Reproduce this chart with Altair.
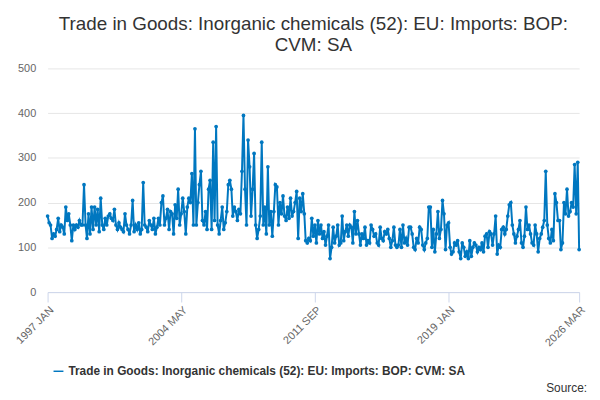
import altair as alt
import pandas as pd

y1997_2003 = [170,155,150,120,130,125,140,165,135,150,145,130,
 190,160,175,150,115,150,140,150,145,160,150,150,
 240,150,120,175,130,190,140,190,150,185,135,210,
 150,140,165,150,170,175,165,160,185,150,140,155,
 145,140,135,175,150,140,130,150,205,135,150,140,
 155,130,140,245,150,145,135,160,150,140,165,130,
 145,165,150,200,215,150,165,185,140,180,175,130]
y2004_2010 = [195,165,230,150,175,210,180,130,190,210,200,265,
 150,365,150,200,240,270,160,150,180,140,230,250,
 140,335,160,370,150,130,160,190,140,155,180,240,
 250,230,170,190,180,160,185,175,270,395,230,150,
 340,280,170,230,310,150,120,140,170,335,150,190,
 130,280,150,180,125,180,240,235,150,200,175,215,
 170,160,190,165,210,170,180,200,225,120,210,180]
y2011_2017 = [220,175,115,110,120,115,165,125,150,110,160,130,
 150,120,135,105,125,150,75,100,145,110,125,150,
 105,110,170,115,135,150,125,150,145,110,180,130,
 160,130,105,130,120,145,105,115,110,150,140,125,
 130,110,105,145,120,115,135,130,140,120,100,115,
 145,105,100,105,140,100,150,110,120,105,145,145,
 130,100,95,120,110,145,140,105,95,110,120,190]
y2018_2026 = [190,100,140,90,130,180,120,140,205,175,95,150,
 155,100,85,90,110,105,115,90,75,110,100,80,
 90,75,115,80,100,110,105,90,100,95,110,90,
 125,130,100,135,130,105,130,170,85,105,100,140,
 145,130,140,170,195,200,150,130,110,125,140,160,
 110,100,125,190,140,150,130,110,105,150,130,90,
 120,130,145,160,270,150,120,110,140,115,220,200,
 160,160,95,110,200,175,230,170,180,200,190,285,
 175,290,95]
values = y1997_2003 + y2004_2010 + y2011_2017 + y2018_2026
series = "Trade in Goods: Inorganic chemicals (52): EU: Imports: BOP: CVM: SA"
dates = pd.date_range("1997-01-01", periods=len(values), freq="MS")
df = pd.DataFrame({"date": dates, "value": values, "series": series})
tick_dates = [alt.DateTime(year=1997, month=1, date=1), alt.DateTime(year=2004, month=5, date=1),
              alt.DateTime(year=2011, month=9, date=1), alt.DateTime(year=2019, month=1, date=1),
              alt.DateTime(year=2026, month=3, date=1)]

line = alt.Chart(df).mark_line(point=alt.OverlayMarkDef(size=14, filled=True), strokeWidth=2).encode(
    x=alt.X("date:T", title=None,
            scale=alt.Scale(domain=[alt.DateTime(year=1997, month=1, date=1), alt.DateTime(year=2026, month=3, date=1)]),
            axis=alt.Axis(values=tick_dates, labelExpr="upper(timeFormat(datum.value, '%Y %b'))",
                          labelAngle=-45, grid=False, domainColor="#ccd6eb", tickColor="#ccd6eb",
                          labelColor="#666", labelFontSize=11, tickSize=10)),
    y=alt.Y("value:Q", title=None, scale=alt.Scale(domain=[0, 500]),
            axis=alt.Axis(values=[0,100,200,300,400,500], gridColor="#e6e6e6", domain=False, ticks=False,
                          labelColor="#666", labelFontSize=11, labelPadding=12)),
    color=alt.Color("series:N", scale=alt.Scale(range=["#0077c0"]),
                    legend=alt.Legend(title=None, orient="none", legendX=5, legendY=300,
                                      labelFontWeight="bold",
                                      labelFontSize=12, labelColor="#333", symbolType="stroke",
                                      labelLimit=600)),
)
src_df = pd.DataFrame({"t": ["Source:"]})
src = alt.Chart(src_df).mark_text(align="right", fontSize=12, color="#333").encode(
    x=alt.value(545), y=alt.value(323), text="t:N")

chart = alt.layer(line, src).properties(
    width=537, height=226,
    title=alt.Title(["Trade in Goods: Inorganic chemicals (52): EU: Imports: BOP:", "CVM: SA"],
                    fontSize=19, fontWeight="normal", color="#333", anchor="middle", offset=8),
).configure_view(stroke=None)
chart.save("out.html", embed_options={"renderer": "svg", "actions": False})
